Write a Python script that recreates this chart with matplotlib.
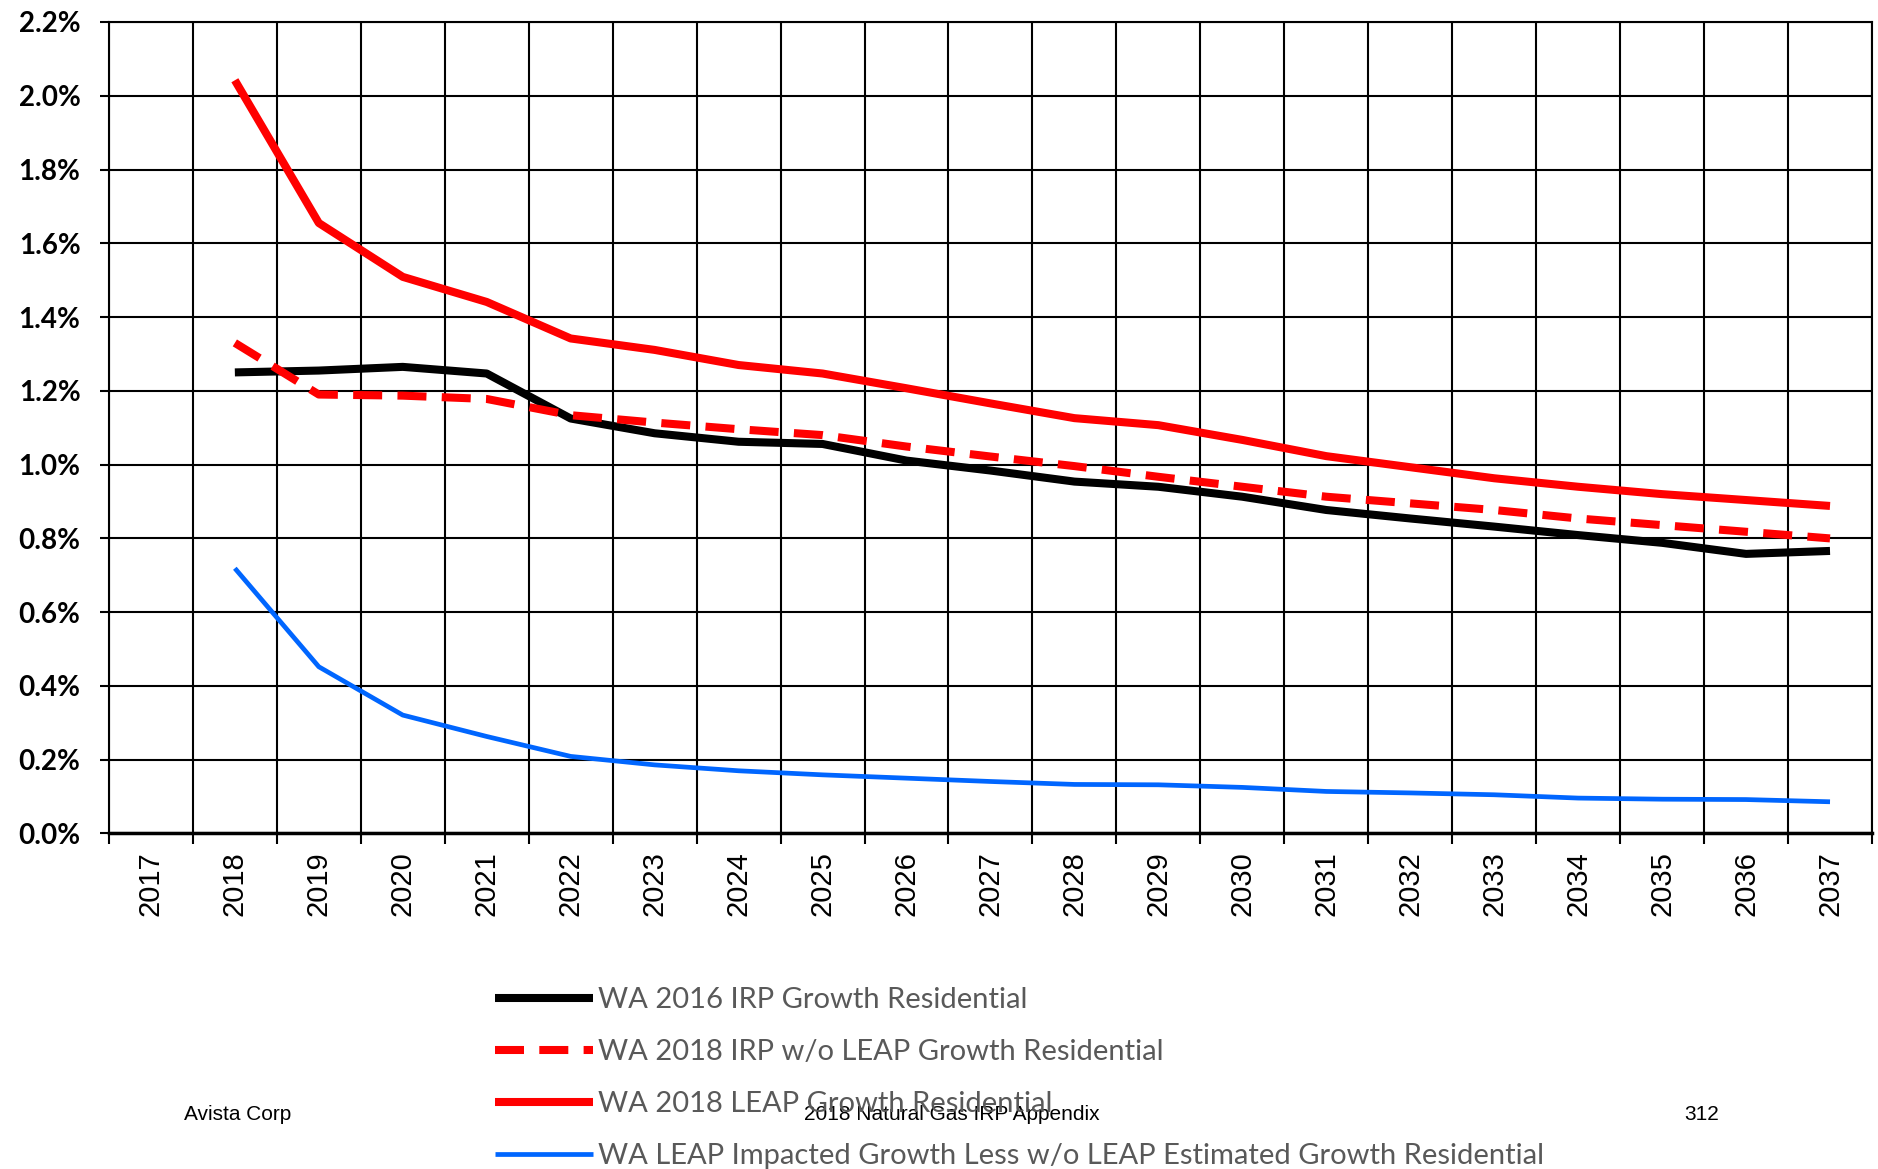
import matplotlib

matplotlib.use("Agg")
import matplotlib.pyplot as plt
import numpy as np

years = list(range(2017, 2038))

# growth rates in percent, 2018..2037
irp_2016 = [1.25, 1.255, 1.265, 1.247, 1.125, 1.085, 1.062, 1.056, 1.011, 0.984,
            0.954, 0.940, 0.913, 0.877, 0.854, 0.832, 0.809, 0.788, 0.758, 0.766]
irp_2018_no_leap = [1.330, 1.190, 1.187, 1.178, 1.134, 1.114, 1.096, 1.080, 1.049, 1.022,
                    0.996, 0.967, 0.940, 0.913, 0.895, 0.877, 0.854, 0.836, 0.818, 0.800]
leap_2018 = [2.042, 1.655, 1.509, 1.441, 1.342, 1.311, 1.270, 1.247, 1.207, 1.166,
             1.126, 1.107, 1.067, 1.023, 0.993, 0.963, 0.940, 0.920, 0.904, 0.888]
leap_diff = [0.719, 0.452, 0.321, 0.263, 0.209, 0.186, 0.170, 0.159, 0.150, 0.141,
             0.133, 0.132, 0.125, 0.114, 0.110, 0.105, 0.096, 0.093, 0.092, 0.086]

labels = [
    "WA 2016 IRP Growth Residential",
    "WA 2018 IRP w/o LEAP Growth Residential",
    "WA 2018 LEAP Growth Residential",
    "WA LEAP Impacted Growth Less w/o LEAP Estimated Growth Residential",
]

fig = plt.figure(figsize=(18.78, 11.69), dpi=100)
ax = fig.add_axes([0.058, 0.287, 0.9388, 0.6942])

x = np.arange(1, len(years))
ax.plot(x, irp_2016, color="black", lw=5.8, solid_joinstyle="round",
        solid_capstyle="butt", label=labels[0], zorder=4)
ax.plot(x, irp_2018_no_leap, color="#ff0000", lw=5.8, dashes=(3.6, 1.9),
        dash_capstyle="butt", label=labels[1], zorder=5)
ax.plot(x, leap_2018, color="#ff0000", lw=5.8, solid_joinstyle="round",
        solid_capstyle="butt", label=labels[2], zorder=4)
ax.plot(x, leap_diff, color="#0066ff", lw=3.4, solid_joinstyle="round",
        solid_capstyle="butt", label=labels[3], zorder=4)

ax.set_xlim(-0.5, len(years) - 0.5)
ax.set_ylim(0, 2.2)

# category boundaries carry the grid and ticks, centers carry the year labels
ax.set_xticks(np.arange(-0.5, len(years), 1))
ax.set_xticklabels([])
ax.set_xticks(np.arange(len(years)), minor=True)
ax.set_xticklabels([str(y) for y in years], minor=True, rotation=90,
                   fontsize=21, family="Liberation Sans")
ax.tick_params(axis="x", which="major", length=8, width=1.5, direction="out")
ax.tick_params(axis="x", which="minor", length=0, pad=13)

ax.set_yticks(np.arange(0, 2.21, 0.2))
ax.set_yticklabels([f"{v:.1f}%" for v in np.arange(0, 2.21, 0.2)],
                   fontsize=20, family="Lato", fontweight="bold")
ax.tick_params(axis="y", length=6.5, width=1.5, direction="out", pad=14)

ax.grid(True, which="major", color="black", lw=1.5)
for side in ["left", "right", "top"]:
    ax.spines[side].set_linewidth(1.5)
ax.spines["bottom"].set_linewidth(2.5)

leg = fig.legend(loc="upper left", bbox_to_anchor=(0.2634, 0.1555), frameon=False,
                 handlelength=3.36, handletextpad=0.2, labelspacing=0.89,
                 prop={"family": "Lato", "size": 21}, borderaxespad=0,
                 borderpad=0)
for txt in leg.get_texts():
    txt.set_color("#595959")

fig.text(0.1267, 0.047, "Avista Corp", ha="center", va="center",
         fontsize=15, family="Liberation Sans")
fig.text(0.507, 0.047, "2018 Natural Gas IRP Appendix", ha="center",
         va="center", fontsize=15, family="Liberation Sans")
fig.text(0.906, 0.047, "312", ha="center", va="center",
         fontsize=15, family="Liberation Sans")

fig.savefig("out.png", dpi=100)
plt.close(fig)
